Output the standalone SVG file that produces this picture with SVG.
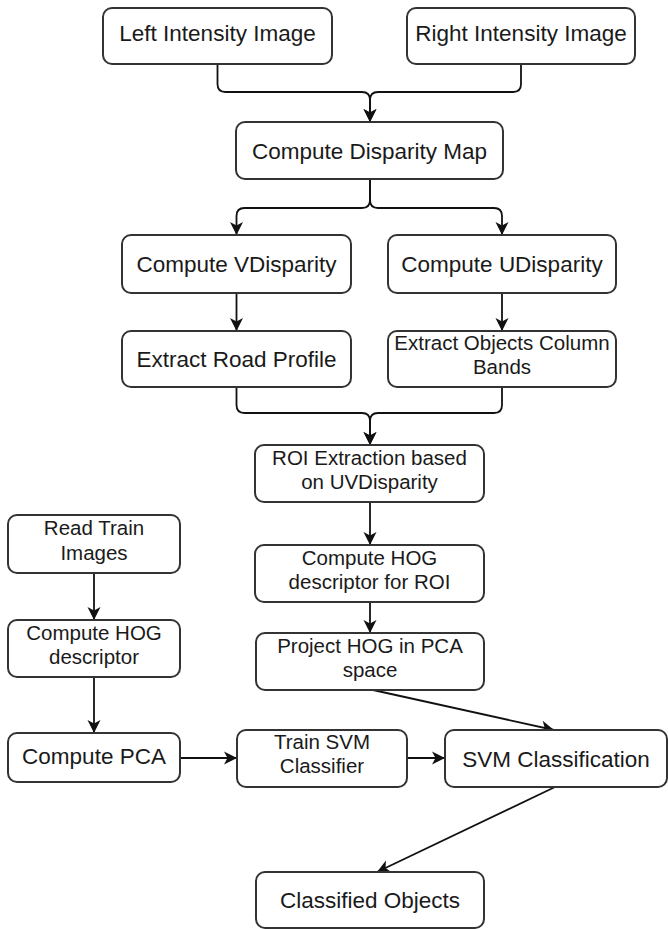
<svg xmlns="http://www.w3.org/2000/svg" width="668" height="929" viewBox="0 0 668 929">
<style>
.box{fill:#fff;stroke:#333;stroke-width:2}
.t{font-family:"Liberation Sans",Arial,sans-serif;font-size:22.5px;fill:#1a1a1a;text-anchor:middle}
.s{font-family:"Liberation Sans",Arial,sans-serif;font-size:20.5px;fill:#1a1a1a;text-anchor:middle}
.c{fill:none;stroke:#111;stroke-width:1.8}
</style>
<defs>
<marker id="arr" markerUnits="userSpaceOnUse" markerWidth="16" markerHeight="16" viewBox="0 0 16 16" refX="14" refY="8" orient="auto">
<path d="M1,1.5 L14,8 L1,14.5 L4.5,8 Z" fill="#111"/>
</marker>
</defs>
<rect width="668" height="929" fill="#fff"/>
<g id="connectors">
<path class="c" d="M217.5,64 V84 Q217.5,92 225.5,92 H362 Q370,92 370,100 V122" marker-end="url(#arr)"/>
<path class="c" d="M521,64 V84 Q521,92 513,92 H378 Q370,92 370,100 V122" marker-end="url(#arr)"/>
<path class="c" d="M370,179 V200 Q370,208 362,208 H244.5 Q236.5,208 236.5,216 V235" marker-end="url(#arr)"/>
<path class="c" d="M370,179 V200 Q370,208 378,208 H494 Q502,208 502,216 V235" marker-end="url(#arr)"/>
<path class="c" d="M236.5,293 V331" marker-end="url(#arr)"/>
<path class="c" d="M502,293 V331" marker-end="url(#arr)"/>
<path class="c" d="M236.5,387 V405 Q236.5,413 244.5,413 H362 Q370,413 370,421 V445" marker-end="url(#arr)"/>
<path class="c" d="M502,387 V405 Q502,413 494,413 H378 Q370,413 370,421 V445" marker-end="url(#arr)"/>
<path class="c" d="M370,502 V545" marker-end="url(#arr)"/>
<path class="c" d="M370,602 V633" marker-end="url(#arr)"/>
<path class="c" d="M373,690 L554,730" marker-end="url(#arr)"/>
<path class="c" d="M94,573 V620" marker-end="url(#arr)"/>
<path class="c" d="M94,677 V733" marker-end="url(#arr)"/>
<path class="c" d="M180,758 H237" marker-end="url(#arr)"/>
<path class="c" d="M407,758 H445" marker-end="url(#arr)"/>
<path class="c" d="M555,787 L377,872" marker-end="url(#arr)"/>
</g>
<g id="left-intensity"><rect class="box" x="103" y="8" width="229" height="56" rx="9"/><text class="t" x="217.5" y="41">Left Intensity Image</text></g>
<g id="right-intensity"><rect class="box" x="407" y="8" width="228" height="56" rx="9"/><text class="t" x="521" y="41">Right Intensity Image</text></g>
<g id="disparity"><rect class="box" x="236" y="122" width="267" height="57" rx="9"/><text class="t" x="369.5" y="158.5">Compute Disparity Map</text></g>
<g id="vdisparity"><rect class="box" x="122" y="235" width="229" height="58" rx="9"/><text class="t" x="236.5" y="272">Compute VDisparity</text></g>
<g id="udisparity"><rect class="box" x="388" y="235" width="228" height="58" rx="9"/><text class="t" x="502" y="272">Compute UDisparity</text></g>
<g id="road-profile"><rect class="box" x="122" y="331" width="229" height="56" rx="9"/><text class="t" x="236.5" y="367">Extract Road Profile</text></g>
<g id="column-bands"><rect class="box" x="388" y="331" width="228" height="56" rx="9"/><text class="s" x="502" y="350">Extract Objects Column</text><text class="s" x="502" y="374">Bands</text></g>
<g id="roi"><rect class="box" x="255" y="445" width="229" height="57" rx="9"/><text class="s" x="369.5" y="465">ROI Extraction based</text><text class="s" x="369.5" y="489">on UVDisparity</text></g>
<g id="hog-roi"><rect class="box" x="255" y="545" width="229" height="57" rx="9"/><text class="s" x="369.5" y="565">Compute HOG</text><text class="s" x="369.5" y="589">descriptor for ROI</text></g>
<g id="project-hog"><rect class="box" x="256" y="633" width="228" height="57" rx="9"/><text class="s" x="370" y="653">Project HOG in PCA</text><text class="s" x="370" y="677">space</text></g>
<g id="read-train"><rect class="box" x="8" y="515" width="172" height="58" rx="9"/><text class="s" x="94" y="535">Read Train</text><text class="s" x="94" y="560">Images</text></g>
<g id="hog-train"><rect class="box" x="8" y="620" width="172" height="57" rx="9"/><text class="s" x="94" y="640">Compute HOG</text><text class="s" x="94" y="664">descriptor</text></g>
<g id="pca"><rect class="box" x="8" y="733" width="172" height="49" rx="9"/><text class="t" x="94" y="764">Compute PCA</text></g>
<g id="train-svm"><rect class="box" x="237" y="730" width="170" height="57" rx="9"/><text class="s" x="322" y="749">Train SVM</text><text class="s" x="322" y="773">Classifier</text></g>
<g id="svm-class"><rect class="box" x="445" y="730" width="222" height="57" rx="9"/><text class="t" x="556" y="766.5">SVM Classification</text></g>
<g id="classified"><rect class="box" x="256" y="872" width="228" height="56" rx="9"/><text class="t" x="370" y="908">Classified Objects</text></g>
</svg>
